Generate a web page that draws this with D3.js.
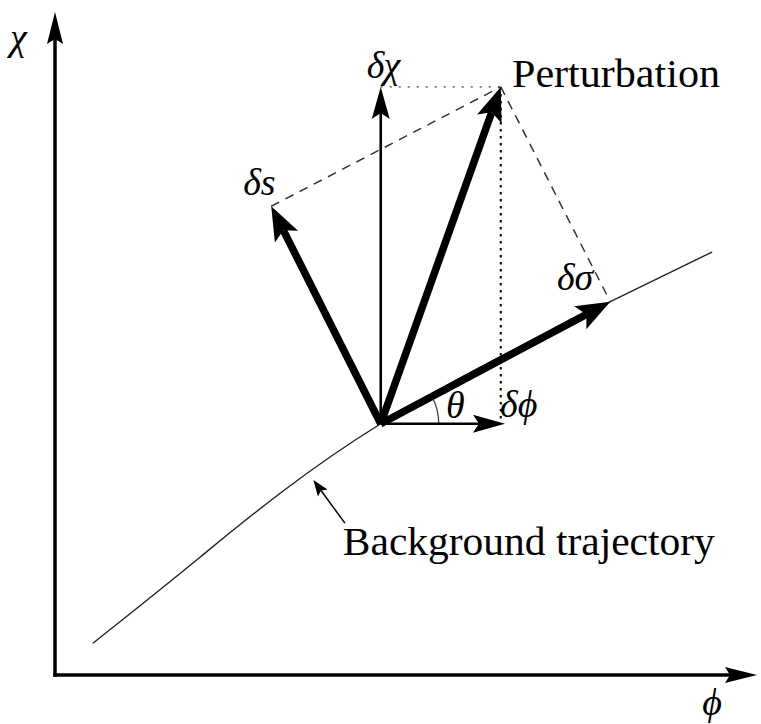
<!DOCTYPE html>
<html>
<head>
<meta charset="utf-8">
<script src="https://cdn.jsdelivr.net/npm/d3@7"></script>
<style>
  html, body { margin: 0; padding: 0; background: #fff; }
</style>
</head>
<body>
<svg id="chart" width="761" height="724"></svg>
<script>
// diagram coordinates: phi (horizontal) and chi (vertical), 0..100
const origin = [46.4, 37.9];

// vectors drawn from the origin: [name, tip phi, tip chi, kind]
const vectors = [
  ['dphi', 64.1, 37.9, 'thin'],
  ['dchi', 46.4, 88.7, 'thin'],
  ['pert', 63.5, 88.7, 'thick'],
  ['ds', 30.8, 70.7, 'thick'],
  ['dsigma', 79.1, 56.3, 'thick']
];

// background trajectory samples
const trajPhi = [5.4, 20.7, 46.4, 79.1, 93.6];
const trajChi = [4.8, 17.8, 37.9, 56.3, 63.8];

// construction lines: [from, to, style]
const guides = [
  [[46.4, 88.7], [63.5, 88.7], 'dotGrey'],
  [[63.5, 88.7], [63.5, 37.9], 'dot'],
  [[30.8, 70.7], [63.5, 88.7], 'dash'],
  [[63.5, 88.7], [79.1, 56.3], 'dash']
];

// pointer to the trajectory
const pointer = [[41.3, 22.9], [36.8, 29.4]];

// text labels: [text, phi, chi, italic, width px or 0]
const labels = [
  ['Perturbation', 65.1, 88.7, false, 208],
  ['Background trajectory', 41.0, 18.1, false, 372],
  ['δχ', 44.4, 90.0, true, 0],
  ['δs', 26.8, 72.4, true, 0],
  ['δσ', 71.5, 58.1, true, 0],
  ['δϕ', 63.4, 38.9, true, 0],
  ['θ', 55.7, 38.8, true, 0],
  ['χ', -6.4, 94.3, true, 0],
  ['ϕ', 92.2, -6.0, true, 0]
];

const svg = d3.select('#chart');
const x = d3.scaleLinear().domain([0, 100]).range([55, 757]);
const y = d3.scaleLinear().domain([0, 100]).range([675, 12]);

// arrowhead with a notched back, tip at (tx, ty) pointing along angle a
function head(tx, ty, a, len, half, notch) {
  const c = Math.cos(a), s = Math.sin(a);
  const pt = (back, side) => [tx - back * c - side * s, ty - back * s + side * c];
  return 'M' + [[tx, ty], pt(len, half), pt(len - notch, 0), pt(len, -half)]
    .map(p => p.join(',')).join('L') + 'Z';
}

function arrow(g, x0, y0, x1, y1, shaft, len, half, notch) {
  const a = Math.atan2(y1 - y0, x1 - x0);
  g.append('line')
    .attr('x1', x0).attr('y1', y0)
    .attr('x2', x1 - (len - notch) * Math.cos(a)).attr('y2', y1 - (len - notch) * Math.sin(a))
    .attr('stroke', '#000').attr('stroke-width', shaft);
  g.append('path').attr('d', head(x1, y1, a, len, half, notch)).attr('fill', '#000');
}

// axes
const axes = svg.append('g');
arrow(axes, x(0), y(0) + 1.75, x(0), y(100), 3.5, 32, 8, 5);
arrow(axes, x(0) - 1.75, y(0), x(100), y(0), 3.5, 32, 8, 5);

// trajectory
const traj = d3.line().curve(d3.curveNatural).x(d => x(d[0])).y(d => y(d[1]));
svg.append('path')
  .attr('d', traj(d3.zip(trajPhi, trajChi)))
  .attr('fill', 'none').attr('stroke', '#222').attr('stroke-width', 1.4);

// guides
const guideStyle = {
  dotGrey: { stroke: '#777', width: 1.6, dash: '2,7' },
  dot: { stroke: '#000', width: 2, dash: '2.5,4.5' },
  dash: { stroke: '#333', width: 1.5, dash: '9,7' }
};
svg.append('g').selectAll('line').data(guides).join('line')
  .attr('x1', d => x(d[0][0])).attr('y1', d => y(d[0][1]))
  .attr('x2', d => x(d[1][0])).attr('y2', d => y(d[1][1]))
  .attr('stroke', d => guideStyle[d[2]].stroke)
  .attr('stroke-width', d => guideStyle[d[2]].width)
  .attr('stroke-dasharray', d => guideStyle[d[2]].dash);

// theta arc between dphi and dsigma
const ds = vectors.find(v => v[0] === 'dsigma');
const ang = Math.atan2(-(y(ds[2]) - y(origin[1])), x(ds[1]) - x(origin[0]));
svg.append('path')
  .attr('transform', `translate(${x(origin[0])},${y(origin[1])})`)
  .attr('d', d3.arc()({ innerRadius: 58, outerRadius: 58, startAngle: Math.PI / 2 - ang, endAngle: Math.PI / 2 }))
  .attr('fill', 'none').attr('stroke', '#444').attr('stroke-width', 1.3);

// vectors
const vecs = svg.append('g');
for (const [, px, py, kind] of vectors) {
  if (kind === 'thick') arrow(vecs, x(origin[0]), y(origin[1]), x(px), y(py), 7.5, 34, 13, 7);
  else arrow(vecs, x(origin[0]), y(origin[1]), x(px), y(py), 2.6, 32, 9, 6);
}

// pointer arrow
arrow(svg.append('g'), x(pointer[0][0]), y(pointer[0][1]), x(pointer[1][0]), y(pointer[1][1]), 1.5, 16, 6, 3);

// labels
const t = svg.append('g').selectAll('text').data(labels).join('text')
  .attr('x', d => x(d[1])).attr('y', d => y(d[2]))
  .style('font-family', '"Liberation Serif"')
  .style('font-size', d => (d[3] ? 38 : 41) + 'px')
  .style('font-style', d => d[3] ? 'italic' : 'normal')
  .attr('fill', '#000')
  .text(d => d[0]);
t.filter(d => d[4] > 0).attr('textLength', d => d[4]).attr('lengthAdjust', 'spacingAndGlyphs');
</script>
</body>
</html>
